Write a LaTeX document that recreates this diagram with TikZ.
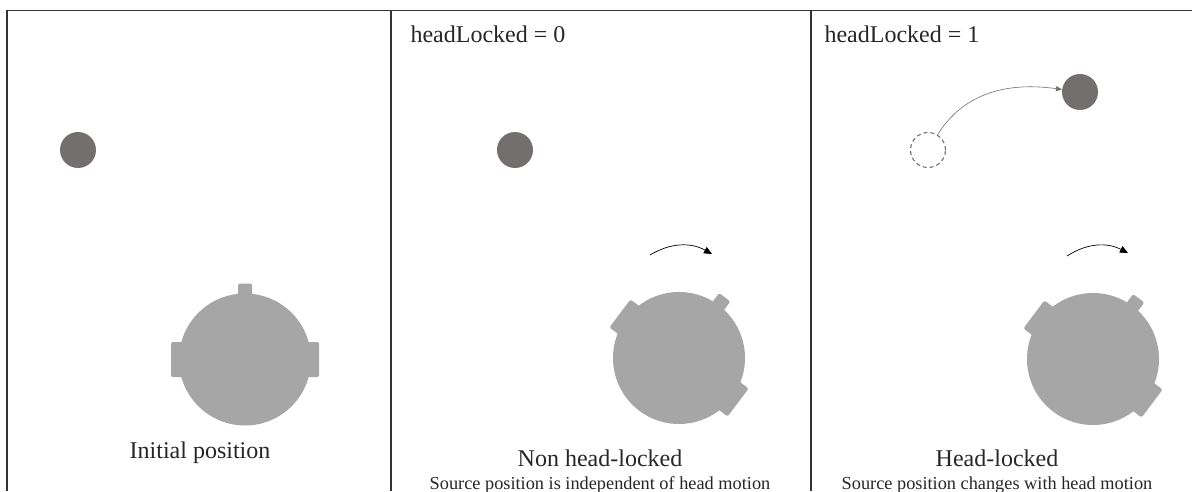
\documentclass[tikz,border=0pt]{standalone}
\usepackage{fontspec}
\setmainfont{Liberation Serif}
\usepackage{xcolor}
\usetikzlibrary{arrows.meta}

\definecolor{srcgray}{HTML}{736F6E}
\definecolor{headgray}{HTML}{A6A6A6}
\definecolor{ghostgray}{HTML}{707070}
\definecolor{framegray}{HTML}{333333}

\begin{document}
\begin{tikzpicture}[
      x=1pt, y=1pt,
      src/.style={circle,fill=srcgray,minimum size=36pt,inner sep=0pt},
      ghost/.style={circle,draw=ghostgray,line width=1.1pt,dash pattern=on 4pt off 3pt,minimum size=35pt,inner sep=0pt},
      title/.style={font=\fontsize{24}{28}\selectfont,text=black!85},
      note/.style={font=\fontsize{18.3}{22}\selectfont,text=black!85},
      turn/.style={-{Triangle[length=8pt,width=7pt]},line width=0.7pt},
      head/.pic={
        \fill[headgray] (0,0) circle (66);
        \fill[headgray,rounded corners=1.5pt] (-7,60) rectangle (7,76);
        \fill[headgray,rounded corners=1.5pt] (-74,-17.5) rectangle (-60,17.5);
        \fill[headgray,rounded corners=1.5pt] (60,-17.5) rectangle (74,17.5);
      }
  ]
      \useasboundingbox (0,0) rectangle (1192,491);

      % 틀
      \draw[framegray,line width=1.3pt] (7,0) -- (7,480.5) -- (1192,480.5);
      \draw[framegray,line width=1.1pt] (391,0) -- (391,480.5);
      \draw[framegray,line width=1.1pt] (811,0) -- (811,480.5);

      % 패널 1
      \node[src] (src1) at (78,341) {};
      \pic (head1) at (245,131.5) {head};
      \node[title,anchor=base] (lab1) at (200,33) {Initial position};

      % 패널 2
      \node[title,anchor=base west] (hl0) at (407,448) {headLocked = 0};
      \node[src] (src2) at (515,341) {};
      \pic[rotate=-37] (head2) at (679,133) {head};
      \coordinate (rotA2) at (650,236);
      \coordinate (rotB2) at (712,237);
      \draw[turn] (rotA2) to[bend left=30] (rotB2);
      \node[title,anchor=base] (lab2) at (600,24.3) {Non head-locked};
      \node[note,anchor=base] (sub2) at (600,1.6) {Source position is independent of head motion};

      % 패널 3
      \node[title,anchor=base west] (hl1) at (821,448) {headLocked = 1};
      \node[ghost] (old3) at (928,341) {};
      \node[src] (src3) at (1080,399) {};
      \draw[-{Triangle[length=6pt,width=5pt]},ghostgray,line width=0.6pt]
          (old3.58) to[out=58,in=172] (src3);
      \pic[rotate=-37] (head3) at (1093,132) {head};
      \coordinate (rotA3) at (1067,235);
      \coordinate (rotB3) at (1128,238);
      \draw[turn] (rotA3) to[bend left=30] (rotB3);
      \node[title,anchor=base] (lab3) at (997,24.3) {Head-locked};
      \node[note,anchor=base] (sub3) at (997,1.6) {Source position changes with head motion};
  \end{tikzpicture}
\end{document}
